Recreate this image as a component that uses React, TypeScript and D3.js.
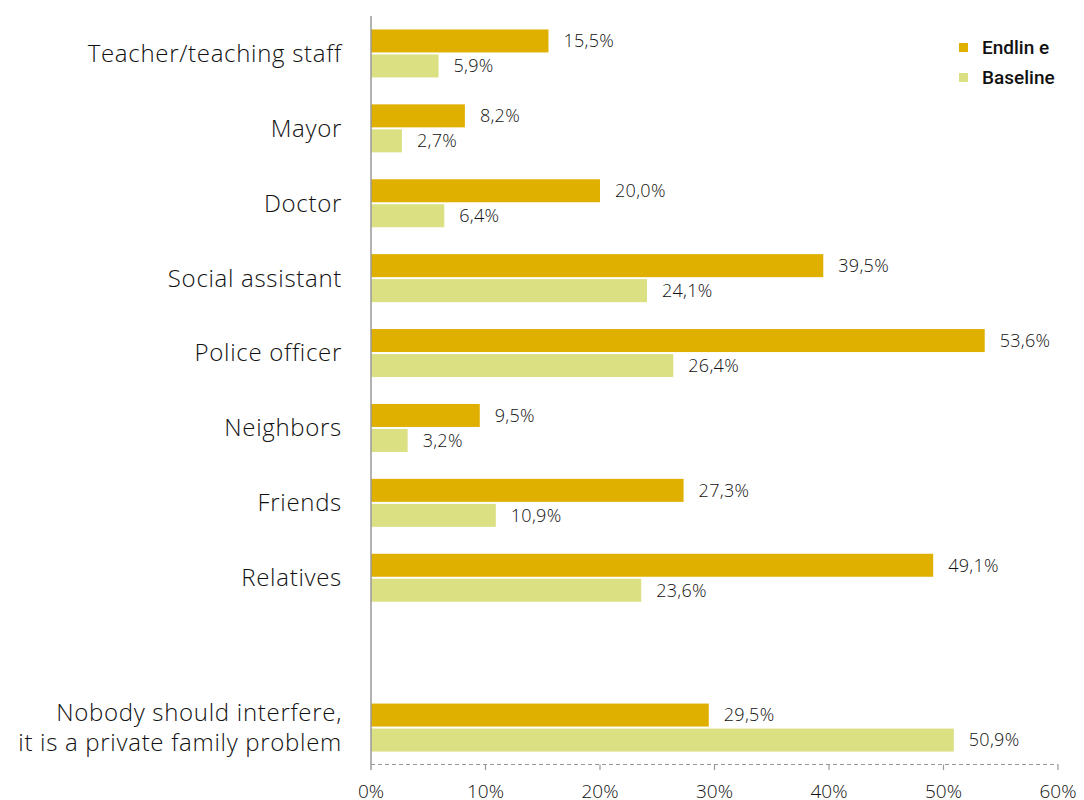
import React from "react";
import * as d3 from "d3";

const categories = [
  "Teacher/teaching staff",
  "Mayor",
  "Doctor",
  "Social assistant",
  "Police officer",
  "Neighbors",
  "Friends",
  "Relatives",
  "",
  "Nobody should interfere,|it is a private family problem",
];
const endline = [15.5, 8.2, 20.0, 39.5, 53.6, 9.5, 27.3, 49.1, null, 29.5];
const baseline = [5.9, 2.7, 6.4, 24.1, 26.4, 3.2, 10.9, 23.6, null, 50.9];
const xTicks = [0, 10, 20, 30, 40, 50, 60];
const seriesNames = ["Endlin e", "Baseline"];

const W = 1084;
const H = 800;
const C_END = "#DFB000";
const C_BASE = "#DBE083";
const FONT = "'Open Sans', sans-serif";

export default function App() {
  const x = d3.scaleLinear().domain([0, 60]).range([371, 1058]);
  const y = d3
    .scaleBand<string>()
    .domain(categories.map((c, i) => String(i)))
    .range([16, 765])
    .paddingInner(0)
    .paddingOuter(0);
  const fmt = (v: number) => v.toFixed(1).replace(".", ",") + "%";
  const bh = 23;

  return (
    <svg
      width={W}
      height={H}
      style={{ position: "absolute", left: 0, top: 0, background: "#fff" }}
      fontFamily={FONT}
    >
      {categories.map((cat, i) => {
        const cy = (y(String(i)) as number) + y.bandwidth() / 2;
        const lines = cat ? cat.split("|") : [];
        const e = endline[i];
        const b = baseline[i];
        return (
          <g key={i}>
            {lines.map((ln, j) => (
              <text
                key={j}
                x={342}
                y={cy + (j - (lines.length - 1) / 2) * 30}
                dy="0.35em"
                textAnchor="end"
                fontSize={24}
                fontWeight={300}
                letterSpacing={0.7}
                fill="#111"
              >
                {ln}
              </text>
            ))}
            {e != null && (
              <>
                <rect x={x(0)} y={cy - 24} width={x(e) - x(0)} height={bh} fill={C_END} />
                <text x={x(e) + 15} y={cy - 12.5} dy="0.35em" fontSize={18} fontWeight={300} letterSpacing={0.3} fill="#111">
                  {fmt(e)}
                </text>
              </>
            )}
            {b != null && (
              <>
                <rect x={x(0)} y={cy + 1} width={x(b) - x(0)} height={bh} fill={C_BASE} />
                <text x={x(b) + 15} y={cy + 12.5} dy="0.35em" fontSize={18} fontWeight={300} letterSpacing={0.3} fill="#111">
                  {fmt(b)}
                </text>
              </>
            )}
          </g>
        );
      })}

      {/* x axis */}
      <line x1={x(0)} x2={x(60)} y1={764.5} y2={764.5} stroke="#999" strokeWidth={1} strokeDasharray="4,3" />
      {xTicks.map((t) => (
        <g key={t}>
          {t > 0 && <line x1={x(t)} x2={x(t)} y1={764.5} y2={770} stroke="#999" strokeWidth={1.2} />}
          <text x={x(t)} y={791} dy="0.35em" textAnchor="middle" fontSize={19} fontWeight={300} fill="#111">
            {t + "%"}
          </text>
        </g>
      ))}
      {/* y axis line */}
      <line x1={371} x2={371} y1={16} y2={770} stroke="#999" strokeWidth={1.5} />

      {/* legend */}
      {seriesNames.map((s, i) => (
        <g key={s}>
          <rect x={959} y={43 + i * 30} width={9} height={9} fill={i === 0 ? C_END : C_BASE} />
          <text x={982} y={47.5 + i * 30} dy="0.35em" fontSize={19} fontWeight={500} fontFamily="Roboto, sans-serif" fill="#111">
            {s}
          </text>
        </g>
      ))}
    </svg>
  );
}
